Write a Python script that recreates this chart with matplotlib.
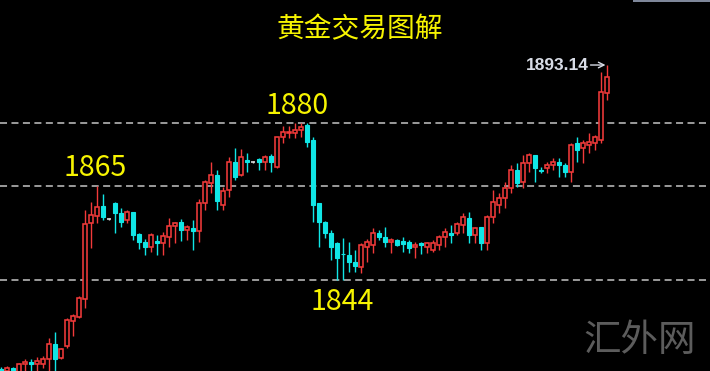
import matplotlib
matplotlib.use("Agg")
import matplotlib.pyplot as plt
from matplotlib.patches import Rectangle

# ---------------- data ----------------
opens = [1823.7, 1823.2, 1823.8, 1822.8, 1824.8, 1825.3, 1824.8, 1824.8, 1825.9, 1829.4,
         1826.2, 1828.9, 1834.6, 1835.5, 1839.7, 1857.0, 1858.6, 1860.9, 1857.9, 1861.6,
         1859.3, 1857.7, 1859.5, 1854.5, 1852.7, 1851.5, 1852.9, 1852.5, 1853.8, 1856.3,
         1857.3, 1855.4, 1855.9, 1855.2, 1861.6, 1866.2, 1868.0, 1861.1, 1864.6, 1871.0,
         1868.0, 1871.4, 1871.0, 1871.7, 1871.0, 1872.3, 1869.8, 1876.7, 1877.6, 1877.6,
         1878.3, 1879.4, 1876.0, 1861.6, 1857.3, 1854.7, 1852.5, 1850.0, 1849.7, 1848.1,
         1847.0, 1851.5, 1852.0, 1854.7, 1853.8, 1852.7, 1853.1, 1852.9, 1852.7, 1851.5,
         1852.5, 1851.5, 1850.9, 1852.0, 1853.8, 1854.7, 1854.7, 1856.6, 1858.2, 1854.3,
         1856.1, 1852.5, 1858.4, 1861.1, 1862.7, 1865.0, 1869.1, 1866.4, 1870.7, 1872.6,
         1869.1, 1869.6, 1870.3, 1871.0, 1870.3, 1868.7, 1875.3, 1874.2, 1874.9, 1875.3,
         1876.0, 1886.8]
highs = [1824.1, 1824.3, 1824.1, 1825.0, 1825.9, 1825.9, 1826.4, 1826.6, 1830.7, 1832.1,
         1828.5, 1835.3, 1836.2, 1840.3, 1860.0, 1861.8, 1865.5, 1863.7, 1858.1, 1861.8,
         1860.5, 1860.0, 1859.6, 1854.7, 1853.4, 1854.7, 1854.3, 1855.0, 1858.2, 1857.3,
         1857.9, 1856.6, 1857.7, 1862.5, 1866.9, 1871.0, 1869.1, 1865.3, 1872.1, 1874.2,
         1873.9, 1873.0, 1871.2, 1871.9, 1872.6, 1872.8, 1876.8, 1879.2, 1879.2, 1879.9,
         1879.9, 1879.9, 1876.7, 1861.6, 1857.5, 1855.4, 1852.7, 1853.6, 1852.7, 1850.9,
         1852.5, 1853.4, 1855.9, 1855.4, 1856.1, 1853.6, 1853.4, 1853.8, 1853.1, 1852.7,
         1852.7, 1852.7, 1853.1, 1854.3, 1855.9, 1856.6, 1857.3, 1859.3, 1859.5, 1856.1,
         1856.1, 1858.9, 1864.6, 1863.9, 1866.4, 1870.3, 1870.7, 1872.6, 1873.0, 1872.6,
         1869.8, 1871.0, 1871.9, 1871.9, 1870.7, 1875.3, 1876.7, 1876.0, 1877.6, 1877.1,
         1891.5, 1893.14]
lows = [1822.0, 1822.0, 1822.0, 1822.0, 1822.0, 1822.0, 1822.0, 1823.9, 1822.0, 1822.0,
        1825.9, 1828.5, 1831.2, 1835.3, 1837.6, 1851.3, 1857.0, 1857.7, 1857.8, 1854.7,
        1856.1, 1857.0, 1853.1, 1851.1, 1849.7, 1850.4, 1849.7, 1849.7, 1851.5, 1852.5,
        1852.9, 1853.1, 1850.9, 1852.7, 1860.0, 1863.9, 1860.0, 1860.0, 1863.0, 1866.9,
        1867.8, 1868.7, 1870.8, 1869.1, 1869.1, 1868.7, 1869.6, 1875.3, 1876.5, 1876.5,
        1876.7, 1874.4, 1857.3, 1851.5, 1853.6, 1848.6, 1844.0, 1844.0, 1845.8, 1845.8,
        1845.6, 1848.1, 1850.2, 1853.1, 1851.5, 1850.2, 1851.8, 1850.4, 1850.2, 1849.0,
        1849.9, 1850.2, 1850.4, 1850.9, 1851.5, 1852.5, 1854.3, 1854.7, 1852.5, 1852.5,
        1850.9, 1850.9, 1857.0, 1859.3, 1860.5, 1863.9, 1865.3, 1865.0, 1868.7, 1866.4,
        1868.5, 1868.5, 1869.1, 1867.5, 1867.5, 1866.4, 1871.0, 1870.7, 1873.0, 1873.7,
        1875.3, 1885.1]
closes = [1823.2, 1823.9, 1823.2, 1824.8, 1825.3, 1824.8, 1825.5, 1825.9, 1829.4, 1825.9,
          1828.2, 1834.9, 1835.8, 1839.9, 1856.8, 1858.9, 1860.7, 1858.4, 1857.9, 1859.3,
          1857.3, 1859.5, 1854.3, 1852.7, 1851.5, 1854.3, 1852.5, 1854.1, 1856.3, 1857.0,
          1855.4, 1856.1, 1855.2, 1861.6, 1866.4, 1868.0, 1862.1, 1864.3, 1871.0, 1867.5,
          1872.1, 1871.0, 1871.0, 1871.0, 1872.1, 1871.0, 1876.7, 1877.8, 1877.8, 1878.3,
          1879.0, 1875.5, 1861.1, 1857.3, 1854.7, 1851.5, 1849.0, 1849.9, 1848.1, 1847.2,
          1852.0, 1852.7, 1854.7, 1853.8, 1852.7, 1853.1, 1852.0, 1852.2, 1851.3, 1852.0,
          1852.0, 1852.5, 1852.5, 1853.8, 1855.0, 1854.3, 1856.8, 1858.4, 1854.3, 1855.9,
          1852.5, 1858.4, 1861.8, 1862.7, 1865.0, 1869.1, 1866.2, 1870.7, 1872.6, 1869.6,
          1868.9, 1870.3, 1871.0, 1870.3, 1868.7, 1874.9, 1873.7, 1875.3, 1875.5, 1876.7,
          1887.0, 1890.4]

level_lines = [1880.0, 1865.5, 1844.0]
level_labels = ["1880", "1865", "1844"]
title_text = "黄金交易图解"
last_price_text = "1893.14"
watermark_text = "汇外网"

# ---------------- styling ----------------
W, H = 710, 371
UP = "#f23a3a"
DOWN = "#10e6e6"
DOJI = "#d8d8d8"
BG = "#000000"

plt.rcParams['font.family'] = ['Noto Sans CJK SC', 'DejaVu Sans']

fig = plt.figure(figsize=(W / 100, H / 100), dpi=100, facecolor=BG)
ax = fig.add_axes([0, 0, 1, 1])
ax.set_facecolor(BG)
ax.set_axis_off()

# pixel geometry of the reference: candle i at x = 1 + 6 i, price scale 0.22857 / px
px_per_bar = 6.0
ax.set_xlim(-1 / px_per_bar, (W - 1) / px_per_bar)
ax.set_ylim(1908.0 - 0.22857 * H, 1908.0)

# dashed level lines
for lv in level_lines:
    ax.axhline(lv, color="#c4c4c4", lw=1.1, linestyle=(0, (4.6, 2.9)), zorder=1)

bw = 0.68
for i, (o, h, l, c) in enumerate(zip(opens, highs, lows, closes)):
    if c > o:
        col = UP
    elif c < o:
        col = DOWN
    else:
        col = DOJI
    ax.vlines(i, l, h, color=col, lw=1.0, zorder=2)
    if c == o:
        ax.hlines(o, i - bw / 2, i + bw / 2, color=col, lw=1.2, zorder=3)
        continue
    bottom = min(o, c)
    height = abs(c - o)
    if c > o:
        rect = Rectangle((i - bw / 2, bottom), bw, height, facecolor=BG,
                         edgecolor=col, lw=1.15, zorder=3)
    else:
        rect = Rectangle((i - bw / 2, bottom), bw, height, facecolor=col,
                         edgecolor=col, lw=0.8, zorder=3)
    ax.add_patch(rect)

# last price marker
last_i = len(closes) - 1
ax.annotate("", xy=(last_i - 0.25, highs[-1]), xytext=(last_i - 2.75, highs[-1]),
            arrowprops=dict(arrowstyle="->", color="#d8dce6", lw=1.0,
                            shrinkA=0, shrinkB=0), zorder=4)
ax.text(last_i - 3.05, highs[-1], last_price_text, ha="right", va="center",
        color="#d8dce6", fontsize=12.5, fontweight="bold",
        family=["Liberation Sans", "DejaVu Sans"], zorder=4)

# title
fig.text(360 / W, 1 - 29 / H, title_text, ha="center", va="center",
         color="#f7f400", fontsize=20)

# level labels (pixel centres from the reference)
label_pos = {"1880": (297, 106), "1865": (95, 168), "1844": (342, 302)}
for lab in level_labels:
    x, y = label_pos[lab]
    fig.text(x / W, 1 - y / H, lab, ha="center", va="center",
             color="#f7f400", fontsize=20.5)

# watermark
fig.text(640 / W, 1 - 340 / H, watermark_text, ha="center", va="center",
         color="#5c5c5c", fontsize=27, fontweight="light")

# faint strip at the top right edge
fig.patches.append(Rectangle((633 / W, 1 - 2 / H), (W - 633) / W, 2 / H,
                             transform=fig.transFigure, facecolor="#7e879a",
                             edgecolor="none"))

fig.savefig("out.png", dpi=100, facecolor=BG)
